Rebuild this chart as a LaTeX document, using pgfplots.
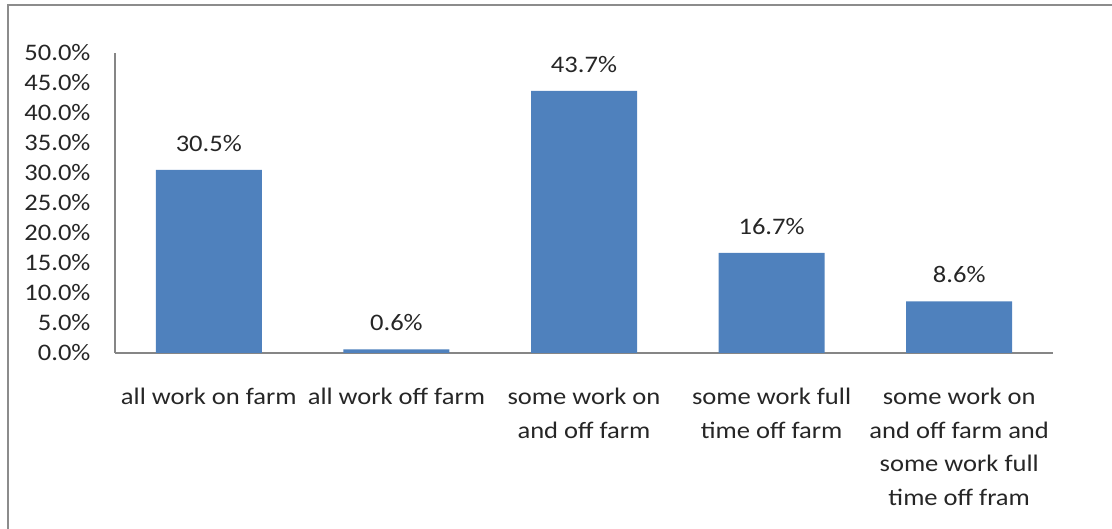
\documentclass[border=0pt]{standalone}
\usepackage{pgfplots}
\pgfplotsset{compat=1.18}
\usepackage{fontspec}
\setmainfont{Carlito}[FakeStretch=1.12]
\definecolor{barblue}{HTML}{4F81BD}
\definecolor{axisgray}{HTML}{868686}
\definecolor{framegray}{HTML}{8C8C8C}
\definecolor{txt}{HTML}{262626}
\begin{document}
\begin{tikzpicture}[font=\fontsize{23.7}{33.5}\selectfont]
\useasboundingbox (0,0) rectangle (1112pt,529pt);
\draw[color=framegray, line width=2.5pt] (8pt,0) -- (8pt,524pt) -- (1112pt,524pt);
\begin{axis}[
  at={(115pt,176pt)}, anchor=south west,
  scale only axis, width=938pt, height=300pt,
  ymin=0, ymax=50, xmin=-0.5, xmax=4.5,
  ybar, bar width=106pt,
  axis x line=bottom, axis y line=left,
  axis line style={draw=axisgray, line width=1.3pt, -},
  major tick length=0pt,
  ytick={0,5,...,50},
  /pgf/number format/assume math mode=true,
  yticklabel={\pgfmathprintnumber[fixed,fixed zerofill,precision=1]{\tick}\%},
  yticklabel style={text=txt, xshift=-21pt},
  xtick={0,1,2,3,4},
  xticklabels={all work on farm, all work off farm, some work on\\and off farm, some work full\\time off farm, some work on\\and off farm and\\some work full\\time off fram},
  xticklabel style={text=txt, align=center, yshift=-32pt},
  nodes near coords={\pgfmathprintnumber[fixed,fixed zerofill,precision=1]{\pgfplotspointmeta}\%},
  every node near coord/.append style={text=txt, yshift=15pt},
  clip=false,
]
\addplot[draw=none, fill=barblue] coordinates {(0,30.5) (1,0.6) (2,43.7) (3,16.7) (4,8.6)};
\end{axis}
\end{tikzpicture}
\end{document}
